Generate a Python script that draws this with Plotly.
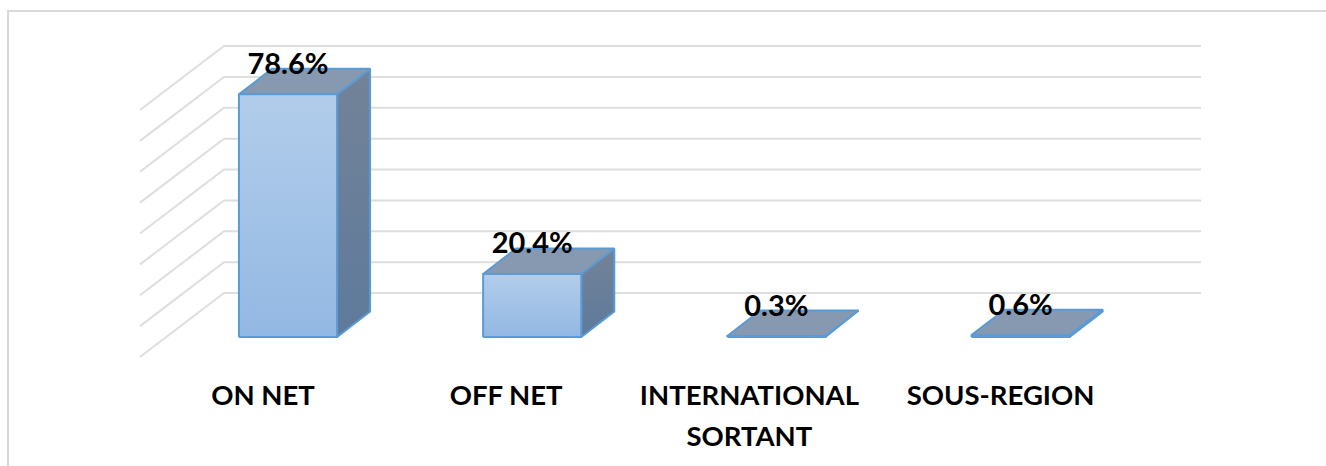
import plotly.graph_objects as go

# ---- data ----
categories = ["ON NET", "OFF NET", "INTERNATIONAL SORTANT", "SOUS-REGION"]
category_lines = [["ON NET"], ["OFF NET"], ["INTERNATIONAL", "SORTANT"], ["SOUS-REGION"]]
values = [78.6, 20.4, 0.3, 0.6]
value_labels = ["78.6%", "20.4%", "0.3%", "0.6%"]
grid_values = [0, 10, 20, 30, 40, 50, 60, 70, 80]

# ---- 3-D projection constants (axis units) ----
W, H = 1326, 466
X0_PX, X_STEP = 288.0, 244.2     # centre of first bar, category spacing
Y0_PX, Y_UNIT = 337.0, 3.087     # bar base, pixels per percentage point
BAR_W = 0.402
DX, DY = 33 / X_STEP, 25.5 / Y_UNIT          # depth of a bar
BACK_Y = 44 / Y_UNIT                         # wall zero above the bar base
WALL_L, WALL_R = -64 / X_STEP, 913 / X_STEP  # wall extent
FLOOR_DX, FLOOR_DY = 84 / X_STEP, 64 / Y_UNIT
LABEL_DY = 9.0
LABEL_OFFSETS = [-25 / X_STEP, -26 / X_STEP, -27 / X_STEP, -20 / X_STEP]

GRID = "#DEDEDE"
EDGE = "#5B9BD5"
FONT = "Lato"

fig = go.Figure()

for v in grid_values:
    y = v + BACK_Y
    fig.add_trace(go.Scatter(
        x=[WALL_L - FLOOR_DX, WALL_L, WALL_R],
        y=[y - FLOOR_DY, y, y],
        mode="lines", line=dict(color=GRID, width=2),
        hoverinfo="skip", showlegend=False))


def face(xs, ys, fill=None, grad=None):
    kw = dict(fillcolor=fill) if fill else dict(
        fillgradient=dict(type="vertical",
                          colorscale=[[0, grad[0]], [1, grad[1]]]))
    fig.add_trace(go.Scatter(
        x=xs, y=ys, mode="lines", fill="toself",
        line=dict(color=EDGE, width=2, shape="linear"),
        hoverinfo="skip", showlegend=False, **kw))


for i, v in enumerate(values):
    l, r = i - BAR_W / 2, i + BAR_W / 2
    face([r, r + DX, r + DX, r, r], [0, DY, v + DY, v, 0],
         grad=("#5E7A9B", "#738398"))
    face([l, r, r + DX, l + DX, l], [v, v, v + DY, v + DY, v], fill="#8799B1")
    face([l, r, r, l, l], [0, 0, v, v, 0], grad=("#93B8E3", "#B2CDEB"))

fig.add_trace(go.Scatter(
    x=list(range(len(values))),
    y=[v + LABEL_DY for v in values],
    text=value_labels, mode="text", textposition="middle center",
    textfont=dict(family=FONT, size=29, color="#000000", weight="bold"),
    hoverinfo="skip", showlegend=False))

for row, y_px in enumerate([398, 439]):
    xs, ys, ts = [], [], []
    for i, lines in enumerate(category_lines):
        if row < len(lines):
            xs.append(i + LABEL_OFFSETS[i])
            ys.append((Y0_PX - y_px) / Y_UNIT)
            ts.append(lines[row])
    fig.add_trace(go.Scatter(
        x=xs, y=ys, text=ts, mode="text", textposition="middle center",
        textfont=dict(family=FONT, size=27.5, color="#000000", weight="bold"),
        hoverinfo="skip", showlegend=False))

frame = dict(type="path", xref="paper", yref="paper",
             path=f"M {8/W} 0 L {8/W} {1-11/H} L 1 {1-11/H}",
             line=dict(color="#D9D9D9", width=2))

fig.update_layout(
    width=W, height=H, margin=dict(l=0, r=0, t=0, b=0),
    paper_bgcolor="white", plot_bgcolor="white", showlegend=False,
    shapes=[frame],
    xaxis=dict(visible=False, range=[-X0_PX / X_STEP, (W - X0_PX) / X_STEP]),
    yaxis=dict(visible=False, range=[(Y0_PX - H) / Y_UNIT, Y0_PX / Y_UNIT]),
)
fig.write_html("out.html", config={"displayModeBar": False},
               post_script="document.body.style.margin='0';document.body.style.overflow='hidden';")
